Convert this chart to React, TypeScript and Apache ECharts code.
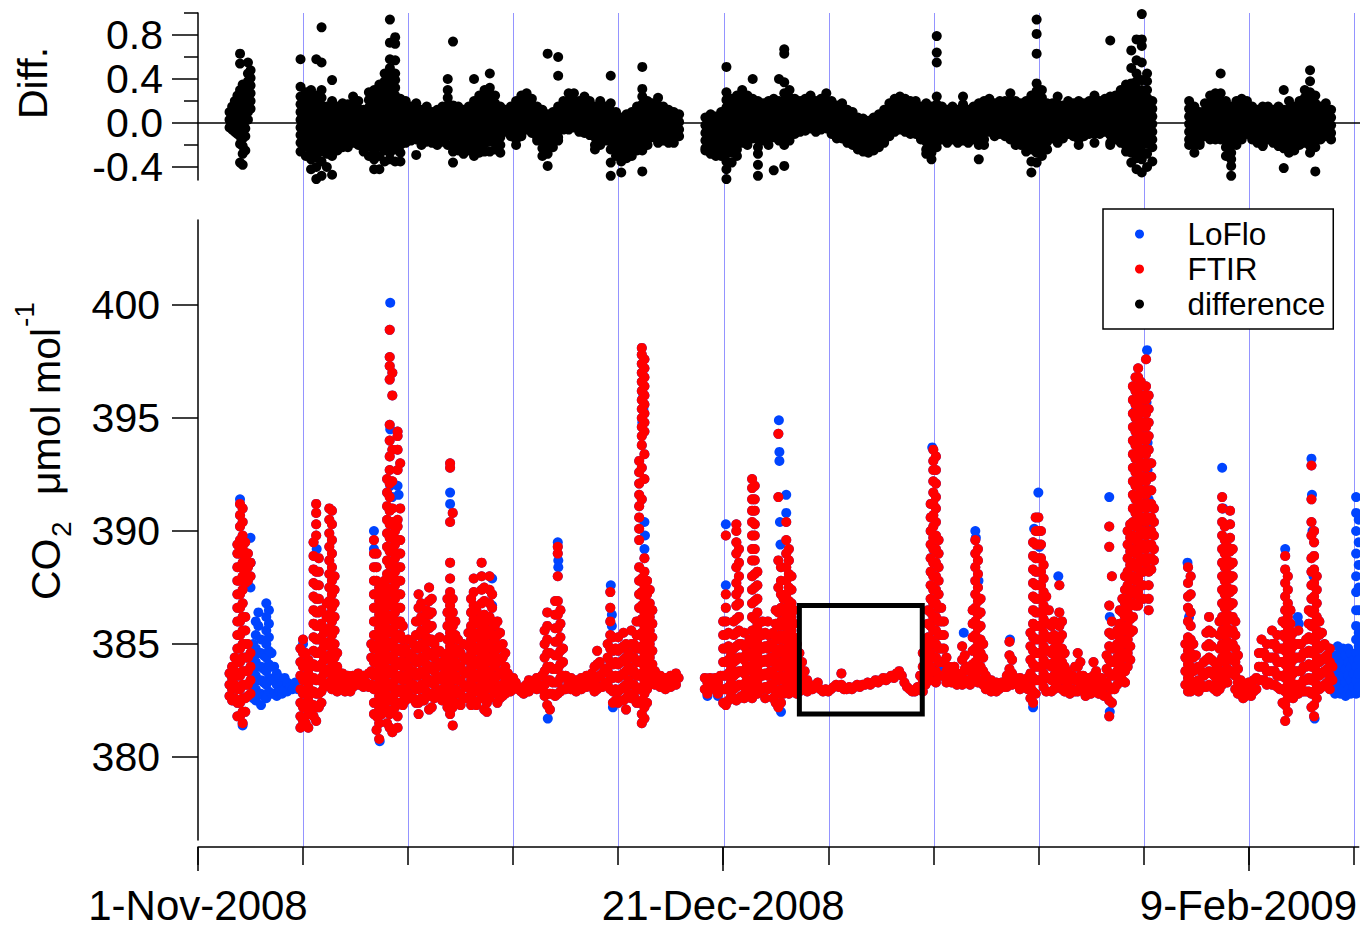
import React, { useEffect, useRef } from 'react';
import * as echarts from 'echarts';

type Col = number | number[];

// ---------- axes (x = days since 1-Nov-2008) ----------
const X_MAX_DAYS = 110.5;
const xMajorTickDays = [0, 50, 100];
const xMajorTickLabels = ['1-Nov-2008', '21-Dec-2008', '9-Feb-2009'];
const xMinorTickDays = [0, 10, 20, 30, 40, 50, 60, 70, 80, 90, 100, 110];
const gridLineRange = [10, 110]; // blue day lines every 10 days
const co2Range = [376.33, 403.76];
const co2TickValues = [380, 385, 390, 395, 400];
const diffRange = [-0.518, 1.0];
const diffTickValues = [-0.4, 0, 0.4, 0.8];
const diffMinorTickValues = [-0.2, 0.2, 0.6, 1.0];
const seriesNames = ['LoFlo', 'FTIR', 'difference'];
const boxDays = [57.25, 68.95];
const boxCo2 = [381.9, 386.7];

const CO2_STEP = 0.25; // days between CO2 sample columns
const DIFF_STEP = 0.5; // days between difference sample columns

// ---------- CO2 (ppm): columns where LoFlo and FTIR coincide at plot resolution ----------
const co2BothA_start = 3.0;
const co2BothA: Col[] = [
  [383.7, 383.2, 382.7], [384.0, 383.5, 383.0, 382.5], [384.4, 383.8, 383.2, 382.6],
  [389.4, 389.0, 388.4, 387.8, 387.2, 386.6, 386.0, 385.4, 384.8, 384.2, 383.6, 383.0, 382.4, 381.8],
  [391.2, 390.7, 390.2, 389.6, 389.0, 388.4, 387.8, 387.2, 386.6, 386.0, 385.4, 384.8, 384.2, 383.6, 383.0, 382.4, 381.8],
  [391.0, 390.4, 389.8, 389.2, 388.6, 388.0, 387.4, 386.8, 386.2, 385.6, 385.0, 384.4, 383.8, 383.2, 382.6, 382.0, 381.5],
  [389.5, 388.9, 388.3, 387.7, 386.2, 385.6, 385.0, 384.4, 383.8, 383.2, 382.6, 382.0],
  [389.0, 388.4, 387.8, 385.0, 384.4, 383.8, 383.2, 382.7],
  [388.6, 388.0, 384.6, 384.0, 383.4, 382.8],
];

const co2BothB_start = 9.75;
const co2BothB: Col[] = [
  [384.8, 384.2, 383.6, 383.0, 382.4, 381.8, 381.3],
  // 10
  [385.2, 384.6, 384.0, 383.4, 382.8, 382.2, 381.6],
  [384.6, 384.0, 383.4, 382.8, 382.2, 381.5],
  [384.3, 383.7, 383.1, 382.5, 381.9, 381.3],
  [384.0, 383.4, 382.8, 382.2],
  // 11
  [389.5, 388.9, 388.3, 387.7, 387.1, 386.5, 385.9, 385.3, 384.7, 384.1, 383.5, 382.9, 382.3, 381.8],
  [391.2, 390.8, 390.3, 389.8, 388.2, 387.6, 387.0, 386.4, 385.8, 385.2, 384.6, 384.0, 383.4, 382.8, 382.2, 381.6],
  [388.8, 388.2, 387.6, 387.0, 386.4, 385.8, 385.2, 384.6, 384.0, 383.4, 382.8, 382.2],
  [386.5, 385.9, 385.3, 384.7, 384.1, 383.5, 382.9, 382.4],
  // 12
  [385.5, 384.9, 384.3, 383.7, 383.1],
  [386.8, 386.2, 385.6, 385.0, 384.4, 383.8, 383.2],
  [391.0, 390.5, 389.9, 389.3, 388.7, 388.1, 387.5, 386.9, 386.3, 385.7, 385.1, 384.5, 383.9, 383.3],
  [390.9, 390.3, 389.6, 389.0, 388.4, 387.8, 387.2, 386.6, 386.0, 385.4, 384.8, 384.2, 383.6, 383.0],
  // 13
  [388.0, 387.4, 386.8, 386.2, 385.6, 385.0, 384.4, 383.8, 383.2],
  [384.6, 384.0, 383.4, 382.9], [383.6, 383.1], [383.7, 383.2],
  // 14
  [383.4, 382.9], [383.6, 383.1], [383.4, 382.9], [383.6, 383.1],
  // 15
  383.4, [383.7, 383.2], 383.3, [383.6, 383.1],
  // 16
  383.3, [383.7, 383.1], [385.0, 384.4, 383.8, 383.2],
  [389.6, 389.0, 388.4, 387.8, 387.2, 386.6, 386.0, 385.4, 384.8, 384.2, 383.6, 383.0, 382.4, 381.9],
  // 17
  [389.0, 388.4, 387.8, 387.2, 386.6, 386.0, 385.4, 384.8, 384.2, 383.6, 383.0, 382.4, 381.8, 381.2],
  [387.5, 386.9, 386.3, 385.7, 385.1, 384.5, 383.9, 383.3, 382.7, 382.1, 381.5, 380.8],
  [385.5, 384.9, 384.3, 383.7, 383.1, 382.5, 381.9],
  [387.8, 387.2, 386.6, 386.0, 385.4, 384.8, 384.2, 383.6, 383.0, 382.4],
  // 18
  [392.3, 391.7, 391.1, 390.5, 389.9, 389.3, 388.7, 388.1, 387.5, 386.9, 386.3, 385.7, 385.1, 384.5, 383.9, 383.3, 382.7, 382.1, 381.5],
  [398.9, 397.7, 397.3, 396.7, 394.7, 394.0, 393.3, 392.7, 392.1, 391.5, 390.9, 390.3, 389.7, 389.1, 388.5, 387.9, 387.3, 386.7, 386.1, 385.5, 384.9, 384.3, 383.7, 383.1, 382.5, 381.9, 381.3],
  [397.0, 396.0, 393.6, 392.2, 391.0, 390.4, 389.8, 389.2, 388.6, 388.0, 387.4, 386.8, 386.2, 385.6, 385.0, 384.4, 383.8, 383.2, 382.6, 382.0, 381.1],
  [390.0, 389.4, 388.8, 388.2, 387.6, 387.0, 386.4, 385.8, 385.2, 384.6, 384.0, 383.4, 382.8, 382.2],
  // 19
  [394.4, 394.2, 393.6, 392.7, 390.5, 390.2, 389.6, 389.0, 388.4, 387.8, 387.2, 386.6, 386.0, 385.4, 384.8, 384.2, 383.6, 383.0, 382.4, 381.8, 381.3],
  [393.0, 391.0, 389.6, 389.0, 388.4, 387.8, 387.2, 386.6, 386.0, 385.4, 384.8, 384.2, 383.6, 383.0, 382.4],
  [385.8, 385.2, 384.6, 384.0, 383.4, 382.8, 382.3],
  [384.8, 384.2, 383.6, 383.0, 382.5],
  // 20
  [385.2, 384.6, 384.0, 383.4, 382.8],
  [384.4, 383.8, 383.2, 382.6],
  [385.0, 384.4, 383.8, 383.2, 382.6],
  [386.0, 385.4, 384.8, 384.2, 383.6, 383.0, 382.4],
  // 21
  [387.2, 386.6, 386.0, 385.4, 384.8, 384.2, 383.6, 383.0, 382.4, 381.9],
  [386.8, 386.2, 385.6, 385.0, 384.4, 383.8, 383.2, 382.6],
  [385.5, 384.9, 384.3, 383.7, 383.1, 382.5],
  [386.5, 385.9, 385.3, 384.7, 384.1, 383.5, 382.9],
  // 22
  [387.5, 386.9, 386.3, 385.7, 385.1, 384.5, 383.9, 383.3, 382.7, 382.1],
  [387.0, 386.4, 385.8, 385.2, 384.6, 384.0, 383.4, 382.8, 382.2],
  [385.0, 384.4, 383.8, 383.2, 382.6],
  [384.6, 384.0, 383.4, 382.8],
  // 23
  [385.3, 384.7, 384.1, 383.5, 382.9],
  [384.2, 383.6, 383.0, 382.5],
  [384.5, 383.9, 383.3, 382.8],
  [387.0, 386.4, 385.8, 385.2, 384.6, 384.0, 383.4, 382.8, 382.2],
  // 24
  [393.0, 392.8, 390.4, 388.6, 387.9, 387.3, 386.7, 386.1, 385.5, 384.9, 384.3, 383.7, 383.1, 382.5, 381.9],
  [390.8, 387.0, 386.4, 385.8, 385.2, 384.6, 384.0, 383.4, 382.8, 382.2, 381.4],
  [386.0, 385.4, 384.8, 384.2, 383.6, 383.0, 382.4],
  [385.2, 384.6, 384.0, 383.4, 382.8],
  // 25
  [384.6, 384.0, 383.4, 382.8, 382.3],
  [385.0, 384.4, 383.8, 383.2, 382.6],
  [384.3, 383.7, 383.1, 382.6],
  [385.5, 384.9, 384.3, 383.7, 383.1],
  // 26
  [387.0, 386.4, 385.8, 385.2, 384.6, 384.0, 383.4, 382.8, 382.3],
  [387.9, 387.3, 386.7, 386.1, 385.5, 384.9, 384.3, 383.7, 383.1, 382.5],
  [386.5, 385.9, 385.3, 384.7, 384.1, 383.5, 382.9, 382.3],
  [386.0, 385.4, 384.8, 384.2, 383.6, 383.0],
  // 27
  [388.6, 388.0, 387.4, 386.8, 386.2, 385.6, 385.0, 384.4, 383.8, 383.2, 382.6],
  [387.5, 386.9, 386.3, 385.7, 385.1, 384.5, 383.9, 383.3, 382.7, 382.1],
  [386.0, 385.4, 384.8, 384.2, 383.6, 383.0, 382.4, 382.0],
  [388.0, 387.4, 386.8, 386.2, 385.6, 385.0, 384.4, 383.8, 383.2, 382.6],
  // 28
  [387.2, 386.6, 386.0, 385.4, 384.8, 384.2, 383.6, 383.0],
  [385.8, 385.2, 384.6, 384.0, 383.4, 382.8],
  [386.0, 385.4, 384.8, 384.2, 383.6, 383.0, 382.4],
  [385.5, 384.9, 384.3, 383.7, 383.1, 382.6],
  // 29
  [385.0, 384.4, 383.8, 383.2, 382.7], [384.6, 384.0, 383.4, 382.8], [383.7, 383.1], [383.4, 382.9],
  // 30
  [383.5, 383.0], 383.3, 383.0, 382.9,
  // 31
  [383.1, 382.8], 383.2, [383.4, 382.9], 383.1,
  // 32
  383.3, [383.5, 383.0], 383.2, [383.6, 383.0],
  // 33
  [385.6, 385.0, 384.4, 383.8, 383.2, 382.7],
  [386.4, 385.8, 385.2, 384.6, 384.0, 383.4, 382.8, 382.3],
  [384.6, 384.0, 383.4, 382.8, 382.1],
  [383.9, 383.3, 382.8],
  // 34
  [386.9, 386.3, 385.7, 385.1, 384.5, 383.9, 383.3, 382.7],
  [389.3, 389.0, 388.0, 386.9, 386.3, 385.7, 385.1, 384.5, 383.9, 383.3, 382.8],
  [386.5, 385.9, 385.3, 384.7, 384.1, 383.5, 382.9],
  [384.8, 384.2, 383.6, 383.0],
  // 35
  [383.6, 383.0], 383.3, [383.5, 383.0], 383.1,
  // 36
  [383.4, 382.9], 383.2, [383.5, 383.0], 383.2,
  // 37
  [383.6, 383.1], 383.3, [383.7, 383.1], [384.0, 383.4, 382.9],
  // 38
  [384.7, 384.1, 383.5, 383.0], [384.2, 383.6, 383.1], [383.7, 383.1], [383.9, 383.3],
  // 39
  [385.0, 384.4, 383.8, 383.2],
  [387.3, 386.6, 386.0, 385.4, 384.8, 384.2, 383.6, 383.0],
  [385.3, 384.7, 384.1, 383.5, 382.9, 382.4],
  [384.8, 384.2, 383.6, 383.0, 382.5],
  // 40
  [385.3, 384.7, 384.1, 383.5, 382.9, 382.4],
  [384.8, 384.2, 383.6, 383.0, 382.5],
  [385.5, 384.9, 384.3, 383.7, 383.1, 382.5],
  [385.0, 384.4, 383.8, 383.2, 382.6, 382.1],
  // 41
  [384.6, 384.0, 383.4, 382.8],
  [385.6, 385.0, 384.4, 383.8, 383.2, 382.6],
  [385.0, 384.4, 383.8, 383.2, 382.7],
  [386.0, 385.4, 384.8, 384.2, 383.6, 383.0, 382.4],
  // 42
  [393.1, 392.6, 392.1, 391.6, 391.1, 390.6, 390.1, 389.6, 388.4, 387.8, 387.2, 386.6, 386.0, 385.4, 384.8, 384.2, 383.6, 383.0, 382.4],
  [398.1, 397.8, 397.4, 397.0, 396.6, 396.2, 395.8, 395.4, 395.0, 394.6, 394.2, 393.8, 392.8, 391.4, 387.9, 387.3, 386.7, 386.1, 385.5, 384.9, 384.3, 383.7, 383.1, 382.5, 381.9, 381.5],
  [397.6, 397.2, 396.8, 396.4, 396.0, 395.6, 395.2, 394.8, 394.4, 393.4, 392.3, 388.8, 388.2, 387.6, 387.0, 386.4, 385.8, 385.2, 384.6, 384.0, 383.4, 382.8, 382.2, 381.7],
  [387.8, 387.2, 386.6, 386.0, 385.4, 384.8, 384.2, 383.6, 383.0, 382.4],
  // 43
  [387.4, 386.8, 386.2, 385.6, 385.0, 384.4, 383.8, 383.2],
  [386.5, 385.9, 385.3, 384.7, 384.1, 383.5],
  [383.8, 383.2], 383.5,
  // 44
  [383.6, 383.1], 383.3, [383.5, 383.0], 383.4,
  // 45
  [383.6, 383.1], 383.5, [383.7, 383.2], 383.5,
];

const co2BothC_start = 48.25;
const co2BothC: Col[] = [
  [383.5, 383.0], [383.3, 382.8], [383.5, 383.0],
  // 49
  383.2, [383.5, 383.0], [383.3, 382.8], [383.6, 383.0],
  // 50
  [386.0, 385.4, 384.8, 384.2, 383.6, 383.0, 382.4],
  [389.8, 387.2, 386.6, 386.0, 385.4, 384.8, 384.2, 383.6, 383.0, 382.3],
  [385.5, 384.9, 384.3, 383.7, 383.1, 382.5],
  [384.5, 383.9, 383.3, 382.7],
  // 51
  [386.0, 385.4, 384.8, 384.2, 383.6, 383.0],
  [390.3, 390.0, 389.5, 389.0, 388.4, 387.7, 387.2, 386.7, 386.1, 385.5, 384.9, 384.3, 383.7, 383.1, 382.5],
  [389.2, 388.6, 388.0, 387.4, 386.8, 386.2, 385.6, 385.0, 384.4, 383.8, 383.2, 382.6],
  [385.0, 384.4, 383.8, 383.2, 382.7],
  // 52
  [385.5, 384.9, 384.3, 383.7, 383.1, 382.6],
  [384.6, 384.0, 383.4, 382.9],
  [385.2, 384.6, 384.0, 383.4, 382.8],
  [392.3, 391.9, 391.4, 390.9, 390.4, 389.8, 389.2, 388.7, 388.0, 387.4, 386.8, 386.2, 385.6, 385.0, 384.4, 383.8, 383.2, 382.6],
  // 53
  [392.0, 391.4, 390.9, 390.3, 389.8, 389.2, 388.7, 388.1, 387.5, 386.9, 386.1, 385.5, 384.9, 384.3, 383.7, 383.1],
  [388.2, 387.6, 387.0, 386.4, 385.8, 385.2, 384.6, 384.0, 383.4, 382.8],
  [385.5, 384.9, 384.3, 383.7, 383.1],
  [386.0, 385.4, 384.8, 384.2, 383.6, 383.0],
  // 54
  [385.5, 384.9, 384.3, 383.7, 383.1, 382.6],
  [386.0, 385.4, 384.8, 384.2, 383.6, 383.0],
  [385.0, 384.4, 383.8, 383.2],
  [385.5, 384.9, 384.3, 383.7, 383.1, 382.6],
  // 55
  [386.5, 385.9, 385.3, 384.7, 384.1, 383.5, 382.9, 382.4],
  [394.3, 391.5, 388.7, 387.5, 386.4, 385.8, 385.2, 384.6, 384.0, 383.4, 382.8, 382.2],
  [388.4, 387.8, 387.2, 386.6, 386.0, 385.4, 384.8, 384.2, 383.6, 383.0, 382.4],
  [387.0, 386.4, 385.8, 385.2, 384.6, 384.0, 383.4, 382.8],
  // 56
  [390.4, 389.6, 389.0, 388.4, 387.8, 387.2, 386.6, 386.0, 385.4, 384.8, 384.2, 383.6, 383.0],
  [389.2, 388.7, 388.1, 387.5, 386.9, 386.3, 385.7, 385.1, 384.5, 383.9, 383.3, 382.8],
  [388.0, 387.4, 386.8, 386.2, 385.6, 385.0, 384.4, 383.8, 383.2],
  [386.5, 385.9, 385.3, 384.7, 384.1, 383.5, 382.9],
  // 57
  [385.0, 384.4, 383.8, 383.2, 382.8], [384.6, 384.0, 383.4, 382.9], [384.2, 383.6, 383.1], [383.8, 383.2],
  // 58
  [383.4, 382.9], 383.2, 383.0, 383.1,
  // 59
  383.3, 383.0, 382.9, 383.0,
  // 60
  382.9, 383.0, 383.1, 383.2,
  // 61
  383.1, [383.7, 383.2], 383.0, 383.0,
  // 62
  383.1, 383.0, 383.1, 383.2,
  // 63
  383.1, 383.2, 383.2, 383.3,
  // 64
  383.2, 383.3, 383.4, 383.3,
  // 65
  383.4, 383.5, 383.4, 383.5,
  // 66
  383.6, 383.5, 383.7, 383.8,
  // 67
  383.6, 383.3, 383.1, 383.0,
  // 68
  382.9, 382.9, 383.1, [383.6, 383.0],
  // 69
  [384.6, 384.0, 383.4, 382.9],
  [385.0, 384.4, 383.8, 383.2],
  [386.5, 385.9, 385.3, 384.7, 384.1, 383.5],
  [391.2, 390.6, 390.0, 389.4, 388.8, 388.2, 387.6, 387.0, 386.4, 385.8, 385.2, 384.6, 384.0, 383.4],
  // 70
  [393.6, 393.1, 392.7, 392.2, 391.7, 391.2, 390.7, 390.2, 389.7, 389.2, 388.6, 388.0, 387.4, 386.8, 386.2, 385.6, 385.0, 384.4, 383.8],
  [393.3, 392.7, 392.1, 391.5, 391.0, 390.4, 389.8, 389.2, 388.6, 388.0, 387.4, 386.8, 386.2, 385.6, 385.0, 384.4, 383.8, 383.3],
  [389.6, 389.0, 388.4, 387.8, 387.2, 386.6, 386.0, 385.4, 384.8, 384.2, 383.6],
  [386.6, 386.0, 385.4, 384.8, 384.2, 383.6],
  // 71
  [386.0, 385.4, 384.8, 384.2, 383.6], [384.4, 383.8, 383.3], [384.0, 383.5], [383.8, 383.3],
  // 72
  [384.0, 383.5], [383.7, 383.2], 383.5, [384.9, 384.3, 383.7, 383.2],
  // 73
  [384.5, 383.9, 383.3], [384.0, 383.4], [383.8, 383.2], [386.5, 385.9, 385.3, 384.7, 384.1, 383.5],
  // 74
  [389.6, 389.0, 388.4, 387.8, 387.2, 386.6, 386.0, 385.4, 384.8, 384.2, 383.6],
  [389.2, 388.7, 388.1, 387.5, 386.9, 386.3, 385.7, 385.1, 384.5, 383.9, 383.3],
  [387.0, 386.4, 385.8, 385.2, 384.6, 384.0, 383.4],
  [385.0, 384.4, 383.8, 383.2],
  // 75
  [383.6, 383.0], 383.2, [383.4, 382.9], 383.1,
  // 76
  [383.3, 382.9], 383.0, 383.3, 383.1,
  // 77
  [383.6, 383.1], [385.1, 384.5, 383.9, 383.3], [384.3, 383.7, 383.2], 383.5,
  // 78
  383.3, [383.5, 383.0], 383.4, 383.2,
  // 79
  [383.5, 383.0],
  [385.5, 384.9, 384.3, 383.7, 383.1, 382.6],
  [389.5, 388.9, 388.3, 387.7, 387.1, 386.5, 385.9, 385.3, 384.7, 384.1, 383.5, 382.9, 382.4],
  [390.6, 390.0, 389.4, 388.8, 388.2, 387.6, 387.0, 386.4, 385.8, 385.2, 384.6, 384.0, 383.4, 382.8],
  // 80
  [390.6, 390.0, 389.4, 388.8, 388.2, 387.6, 387.0, 386.4, 385.8, 385.2, 384.6, 384.0, 383.4],
  [390.0, 389.4, 388.8, 388.2, 387.6, 387.0, 386.4, 385.8, 385.2, 384.6, 384.0, 383.4],
  [388.5, 387.9, 387.3, 386.7, 386.1, 385.5, 384.9, 384.3, 383.7, 383.1],
  [387.1, 386.5, 385.9, 385.3, 384.7, 384.1, 383.5, 382.9],
  // 81
  [386.5, 385.9, 385.3, 384.7, 384.1, 383.5],
  [385.8, 385.2, 384.6, 384.0, 383.4, 382.9],
  [386.0, 385.4, 384.8, 384.2, 383.6, 383.0],
  [385.0, 384.4, 383.8, 383.2],
  // 82
  [387.6, 386.4, 385.8, 385.2, 384.6, 384.0, 383.4],
  [386.0, 385.4, 384.8, 384.2, 383.6, 383.0],
  [384.6, 384.0, 383.4, 382.9],
  [383.8, 383.2],
  // 83
  [383.4, 382.8], [383.6, 383.0], [384.0, 383.4, 382.9], [384.6, 384.0, 383.4, 382.9],
  // 84
  [384.2, 383.6, 383.1], [383.6, 383.0], [383.3, 382.7], [383.5, 383.0],
  // 85
  [383.4, 382.8], [384.2, 383.6, 383.0], [383.8, 383.2], [383.3, 382.8],
  // 86
  [383.5, 382.9], [383.2, 382.7], [384.5, 383.9, 383.3, 382.7],
  [390.2, 389.3, 386.7, 385.5, 384.9, 384.3, 383.7, 383.1, 382.5, 381.8],
  // 87
  [388.0, 386.0, 385.4, 384.8, 384.2, 383.6, 383.0, 382.4],
  [384.8, 384.2, 383.6, 383.0],
  [385.6, 385.0, 384.4, 383.8, 383.2],
  [386.5, 385.9, 385.3, 384.7, 384.1, 383.5],
  // 88
  [387.0, 386.4, 385.8, 385.2, 384.6, 384.0, 383.4],
  [388.0, 387.4, 386.8, 386.2, 385.6, 385.0, 384.4, 383.8, 383.3],
  [390.0, 389.4, 388.8, 388.2, 387.6, 387.0, 386.4, 385.8, 385.2, 384.6, 384.0],
  [390.3, 389.7, 389.1, 388.5, 387.9, 387.3, 386.7, 386.1, 385.5, 384.9, 384.3],
  // 89
  [396.4, 395.8, 395.2, 394.6, 394.0, 393.4, 392.8, 392.2, 391.6, 391.0, 390.4, 389.8, 389.2, 388.6, 388.0, 387.4, 386.8, 386.2, 385.6],
  [396.8, 396.2, 395.6, 395.0, 394.4, 393.8, 393.2, 392.6, 392.0, 391.4, 390.8, 390.2, 389.6, 389.0, 388.4, 387.8, 387.2, 386.7],
  [397.2, 396.8, 396.3, 395.7, 395.1, 394.5, 393.9, 393.3, 392.7, 392.1, 391.5, 390.9, 390.3, 389.7, 389.1, 388.5, 387.9, 387.3, 386.7],
  [396.6, 396.0, 395.4, 394.8, 394.2, 393.6, 393.0, 392.4, 391.8, 391.2, 390.6, 390.0, 389.4, 388.8, 388.2, 387.6, 387.0],
  // 90
  [396.0, 395.4, 394.8, 394.2, 393.6, 393.0, 392.4, 391.8, 391.2, 390.6, 390.0, 389.4, 388.8, 388.2, 387.6, 387.0],
  [397.6, 396.4, 395.8, 395.2, 394.6, 394.0, 393.4, 392.8, 392.2, 391.6, 391.0, 390.4, 389.8, 389.2, 388.6],
  [396.0, 395.4, 394.8, 394.2, 393.6, 393.0, 392.4, 391.8, 391.2, 390.6, 390.0, 389.4, 388.8, 388.2, 387.6, 387.0, 386.5],
  [393.0, 392.4, 391.8, 391.2, 390.6, 390.0, 389.4, 388.8, 388.3],
  // 91
  [391.0, 390.4, 389.8, 389.2, 388.7],
];

const co2BothD_start = 94.0;
const co2BothD: Col[] = [
  // 94
  [385.0, 384.4, 383.8, 383.2],
  [388.4, 387.7, 387.1, 386.6, 386.0, 385.3, 384.7, 384.1, 383.5, 382.9],
  [388.0, 387.2, 386.4, 385.8, 385.2, 384.6, 384.0, 383.4, 382.9],
  [385.0, 384.4, 383.8, 383.2],
  // 95
  [384.5, 383.9, 383.3], [384.0, 383.4, 382.9], [383.8, 383.2], [384.2, 383.6, 383.1],
  // 96
  [385.5, 384.9, 384.3, 383.7, 383.1],
  [386.2, 385.6, 385.0, 384.4, 383.8, 383.2],
  [385.5, 384.9, 384.3, 383.7, 383.1],
  [384.2, 383.6, 383.0],
  // 97
  [384.0, 383.4, 382.9],
  [386.0, 385.4, 384.8, 384.2, 383.6, 383.0],
  [391.5, 391.0, 390.4, 389.8, 389.2, 388.6, 388.0, 387.4, 386.8, 386.2, 385.6, 385.0, 384.4, 383.8, 383.2],
  [390.2, 389.6, 389.0, 388.4, 387.8, 387.2, 386.6, 386.0, 385.4, 384.8, 384.2, 383.6],
  // 98
  [389.3, 388.7, 388.1, 387.5, 386.9, 386.3, 385.7, 385.1, 384.5, 383.9, 383.3],
  [390.9, 390.3, 389.7, 389.1, 388.5, 387.9, 387.3, 386.7, 386.1, 385.5, 384.9, 384.3, 383.7],
  [389.2, 388.6, 388.0, 387.4, 386.8, 386.2, 385.6, 385.0, 384.4, 383.8],
  [386.0, 385.4, 384.8, 384.2, 383.6, 383.0],
  // 99
  [384.5, 383.9, 383.3, 382.8], [383.4, 382.8], [383.1, 382.6], [383.2, 382.7],
  // 100
  [383.3, 382.8], [383.2, 382.7], [383.4, 382.9], [383.5, 383.0],
  // 101
  [384.6, 384.0, 383.4], [385.2, 384.6, 384.0, 383.4], [384.6, 384.0, 383.4], [385.0, 384.4, 383.8, 383.2],
  // 102
  [384.4, 383.8, 383.3], [385.6, 385.0, 384.4, 383.8, 383.2], [385.0, 384.4, 383.8, 383.2], [385.4, 384.8, 384.2, 383.6, 383.1],
  // 103
  [384.8, 384.2, 383.6, 383.0],
  [386.0, 385.4, 384.8, 384.2, 383.6, 383.0, 382.4],
  [388.9, 388.3, 387.7, 387.1, 386.5, 385.9, 385.3, 384.7, 384.1, 383.5, 382.9, 382.3, 381.6],
  [388.0, 387.4, 386.8, 386.2, 385.6, 385.0, 384.4, 383.8, 383.2, 382.6, 382.0],
  // 104
  [386.5, 385.9, 385.3, 384.7, 384.1, 383.5, 382.9],
  [385.5, 384.9, 384.3, 383.7, 383.1, 382.6],
  [385.0, 384.4, 383.8, 383.2],
  [385.6, 385.0, 384.4, 383.8, 383.2, 382.8],
  // 105
  [385.0, 384.4, 383.8, 383.2],
  [384.6, 384.0, 383.4, 382.9],
  [385.2, 384.6, 384.0, 383.4, 382.9],
  [386.5, 385.9, 385.3, 384.7, 384.1, 383.5, 382.9],
  // 106
  [392.9, 391.4, 390.4, 389.8, 388.8, 388.2, 387.6, 387.0, 386.4, 385.8, 385.2, 384.6, 384.0, 383.4, 382.8, 382.2],
  [390.0, 389.5, 388.9, 388.3, 387.7, 387.1, 386.5, 385.9, 385.3, 384.7, 384.1, 383.5, 382.9, 382.3, 381.8],
  [388.0, 387.4, 386.8, 386.2, 385.6, 385.0, 384.4, 383.8, 383.2, 382.6],
  [386.0, 385.4, 384.8, 384.2, 383.6, 383.0],
  // 107
  [385.5, 384.9, 384.3, 383.7, 383.1], [385.0, 384.4, 383.8, 383.2], [384.5, 383.9, 383.3], [384.8, 384.2, 383.6, 383.0],
  // 108
  [384.0, 383.4],
];

// ---------- LoFlo-only readings (blue visible) ----------
const loFloOnlyA_start = 5.25;
const loFloOnlyA: Col[] = [
  [385.0, 384.4, 383.8, 383.2, 382.6],
  [386.0, 385.4, 384.8, 384.2, 383.6, 383.0, 382.5],
  [386.4, 385.8, 384.6, 384.0, 383.4, 382.8],
  [385.2, 384.6, 384.0, 383.4, 382.8, 382.3],
  [384.5, 383.9, 383.3, 382.7],
  [386.8, 386.2, 385.6, 385.0, 384.4, 383.8, 383.2, 382.6],
  [386.5, 385.9, 385.3, 384.7, 384.1, 383.5, 382.9],
  [384.6, 384.0, 383.4, 382.8],
  [384.0, 383.4, 382.8],
  [383.7, 383.2, 382.7],
  [383.5, 382.9], [383.3, 382.8], [383.5, 383.0], [383.3, 382.9],
  383.1, 383.0, 383.3, 383.0,
];
const loFloOnlyD_start = 108.25;
const loFloOnlyD: Col[] = [
  [384.5, 383.9, 383.3, 382.8],
  [384.9, 384.3, 383.7, 383.1],
  [384.6, 384.0, 383.4, 382.8],
  [384.8, 384.2, 383.6, 383.0],
  [384.5, 383.9, 383.3, 382.7],
  [384.8, 384.2, 383.6, 383.0],
  [384.6, 384.0, 383.4, 382.8],
  [384.3, 383.7, 383.1],
  [391.5, 390.8, 390.0, 389.0, 388.0, 387.3, 386.5, 385.8, 385.2, 384.6, 384.0, 383.4, 382.8],
  [390.5, 389.5, 388.5, 387.5, 386.5, 385.5, 384.9, 384.3, 383.7, 383.1],
];
const loFloExtras: [number, number][] = [
  [4.0, 391.4], [4.25, 381.4], [5.0, 389.7], [5.0, 388.6], [5.0, 387.5],
  [10.0, 385.0], [11.3, 389.2], [16.75, 390.0], [16.75, 389.2], [17.3, 380.7], [18.3, 400.1], [18.3, 394.5],
  [18.3, 392.0], [18.5, 391.5], [19.0, 392.0], [19.1, 391.6], [24.0, 391.7], [24.0, 391.2], [28.0, 387.9],
  [28.0, 386.7], [33.3, 381.7], [34.25, 389.5], [34.3, 388.7], [34.3, 388.4], [39.3, 387.6], [39.4, 386.3],
  [39.4, 385.8], [39.5, 382.2], [42.3, 397.0], [42.4, 396.0], [42.4, 395.4], [42.3, 394.8], [42.5, 390.4],
  [42.55, 389.8], [42.5, 389.2],
  [48.5, 382.7], [49.5, 382.7], [50.25, 390.3], [50.25, 387.6], [55.3, 394.9], [55.35, 393.5], [55.35, 393.1],
  [55.4, 390.4], [55.45, 389.4], [55.5, 382.0], [56.0, 391.6], [56.0, 390.8], [69.9, 393.7], [70.1, 389.1],
  [70.5, 384.0], [70.75, 384.0], [71.0, 384.0], [71.25, 384.0], [72.9, 385.5], [74.0, 390.0], [74.05, 389.7],
  [74.3, 387.8], [77.3, 385.2], [79.5, 382.2], [79.6, 390.1], [80.0, 391.7], [80.1, 389.3], [81.9, 388.0],
  [86.75, 391.5], [86.8, 386.2], [86.8, 382.0], [89.2, 395.3], [89.3, 394.1], [89.6, 393.5], [90.35, 398.0],
  [90.3, 395.7], [90.4, 393.9], [90.4, 392.7], [90.5, 391.4], [90.4, 390.2],
  [94.2, 388.6], [94.35, 386.2], [97.5, 392.8], [97.6, 391.0], [103.5, 389.2], [104.7, 386.2], [104.8, 385.9],
  [106.0, 393.2], [106.05, 391.6], [106.1, 390.0], [106.2, 388.0], [106.3, 381.7],
];

// ---------- difference (LoFlo - FTIR, ppm) ----------
const diffA_start = 3.0;
const diffA_step = 0.25;
const diffA: Col[] = [
  [0.1, 0.03, -0.04], [0.15, 0.08, 0.01, -0.06], [0.2, 0.13, 0.06, -0.01, -0.08], [0.25, 0.18, 0.11, 0.04, -0.03, -0.1],
  [0.63, 0.54, 0.3, 0.23, 0.16, 0.09, 0.02, -0.05, -0.12, -0.19, -0.36],
  [0.35, 0.28, 0.21, 0.14, 0.07, 0.0, -0.07, -0.14, -0.21, -0.28, -0.38],
  [0.3, 0.23, 0.16, 0.09, 0.02, -0.05, -0.12, -0.25],
  [0.55, 0.45, 0.38, 0.31, 0.24, 0.17, 0.1, 0.03],
  [0.48, 0.41, 0.34, 0.27, 0.2, 0.13],
];
const diffB_start = 9.75;
const diffB: Col[] = [
  [0.58, 0.33, 0.24, 0.17, 0.1, 0.03, -0.04, -0.11, -0.18, -0.26],
  [0.28, 0.21, 0.14, 0.07, 0.0, -0.07, -0.14, -0.21, -0.3],
  [0.3, 0.23, 0.16, 0.09, 0.02, -0.05, -0.12, -0.19, -0.26, -0.33, -0.42],
  [0.58, 0.25, 0.18, 0.11, 0.04, -0.03, -0.1, -0.17, -0.24, -0.31, -0.4, -0.51],
  [0.87, 0.55, 0.3, 0.23, 0.16, 0.09, 0.02, -0.05, -0.12, -0.19, -0.26, -0.35, -0.48],
  [0.15, 0.08, 0.01, -0.06, -0.13, -0.2, -0.28, -0.4],
  [0.39, 0.2, 0.13, 0.06, -0.01, -0.08, -0.15, -0.22, -0.3, -0.47],
  [0.15, 0.08, 0.01, -0.06, -0.13, -0.2, -0.25],
  [0.18, 0.11, 0.04, -0.03, -0.1, -0.17, -0.22],
  [0.17, 0.1, 0.03, -0.04, -0.11, -0.18, -0.22],
  [0.24, 0.17, 0.1, 0.03, -0.04, -0.11, -0.18],
  [0.2, 0.13, 0.06, -0.01, -0.08, -0.15, -0.2],
  [0.12, 0.05, -0.02, -0.09, -0.16, -0.22, -0.26],
  [0.28, 0.21, 0.14, 0.07, 0.0, -0.07, -0.14, -0.21, -0.3],
  [0.3, 0.23, 0.16, 0.09, 0.02, -0.05, -0.12, -0.19, -0.26, -0.33, -0.42],
  [0.35, 0.28, 0.21, 0.14, 0.07, 0.0, -0.07, -0.14, -0.21, -0.3, -0.42],
  [0.45, 0.38, 0.31, 0.24, 0.17, 0.1, 0.03, -0.04, -0.11, -0.18, -0.25, -0.35],
  [0.94, 0.73, 0.58, 0.5, 0.43, 0.36, 0.29, 0.22, 0.15, 0.08, 0.01, -0.06, -0.13, -0.2, -0.27, -0.33],
  [0.78, 0.72, 0.57, 0.45, 0.39, 0.32, 0.25, 0.18, 0.11, 0.04, -0.03, -0.1, -0.17, -0.24, -0.35],
  [0.22, 0.15, 0.08, 0.01, -0.06, -0.13, -0.2, -0.27, -0.35],
  [0.2, 0.13, 0.06, -0.01, -0.08, -0.15, -0.18],
  [0.15, 0.08, 0.01, -0.06, -0.13, -0.16],
  [0.18, 0.11, 0.04, -0.03, -0.1, -0.15, -0.29],
  [0.12, 0.05, -0.02, -0.09, -0.16, -0.2],
  [0.15, 0.08, 0.01, -0.06, -0.13, -0.17],
  [0.1, 0.03, -0.04, -0.11, -0.18],
  [0.12, 0.05, -0.02, -0.09, -0.16, -0.2],
  [0.15, 0.08, 0.01, -0.06, -0.13, -0.17],
  [0.4, 0.3, 0.23, 0.16, 0.09, 0.02, -0.05, -0.12, -0.2],
  [0.74, 0.16, 0.09, 0.02, -0.05, -0.12, -0.19, -0.26, -0.36],
  [0.15, 0.08, 0.01, -0.06, -0.13, -0.2, -0.25],
  [0.12, 0.05, -0.02, -0.09, -0.16, -0.23, -0.28],
  [0.15, 0.08, 0.01, -0.06, -0.13, -0.2, -0.25],
  [0.4, 0.2, 0.13, 0.06, -0.01, -0.08, -0.15, -0.22, -0.3],
  [0.25, 0.18, 0.11, 0.04, -0.03, -0.1, -0.17, -0.24, -0.27],
  [0.3, 0.23, 0.16, 0.09, 0.02, -0.05, -0.12, -0.19, -0.26],
  [0.45, 0.32, 0.25, 0.18, 0.11, 0.04, -0.03, -0.1, -0.17, -0.26],
  [0.25, 0.18, 0.11, 0.04, -0.03, -0.1, -0.17, -0.24],
  [0.15, 0.08, 0.01, -0.06, -0.13, -0.2, -0.27],
  [0.12, 0.05, -0.02, -0.08],
  [0.15, 0.08, 0.01, -0.06, -0.12],
  [0.2, 0.13, 0.06, -0.01, -0.08, -0.15, -0.2],
  [0.25, 0.18, 0.11, 0.04, -0.03, -0.1, -0.12],
  [0.27, 0.2, 0.13, 0.06, -0.01, -0.06],
  [0.22, 0.15, 0.08, 0.01, -0.06, -0.09],
  [0.15, 0.08, 0.01, -0.06, -0.13, -0.16],
  [0.12, 0.05, -0.02, -0.09, -0.16, -0.23, -0.3],
  [0.63, 0.08, 0.01, -0.06, -0.13, -0.2, -0.28, -0.39],
  [0.1, 0.03, -0.04, -0.11, -0.18, -0.22],
  [0.6, 0.43, 0.15, 0.08, 0.01, -0.06, -0.13, -0.16],
  [0.2, 0.13, 0.06, -0.01, -0.06],
  [0.27, 0.2, 0.13, 0.06, -0.01, -0.06],
  [0.27, 0.2, 0.13, 0.06, -0.01, -0.04],
  [0.2, 0.13, 0.06, -0.01, -0.08],
  [0.24, 0.17, 0.1, 0.03, -0.04, -0.09],
  [0.2, 0.13, 0.06, -0.01, -0.08, -0.11],
  [0.15, 0.08, 0.01, -0.06, -0.13, -0.2, -0.24],
  [0.2, 0.13, 0.06, -0.01, -0.08, -0.15, -0.2],
  [0.15, 0.08, 0.01, -0.06, -0.13, -0.16],
  [0.43, 0.18, 0.11, 0.04, -0.03, -0.1, -0.17, -0.24, -0.36, -0.48],
  [0.1, 0.03, -0.04, -0.11, -0.18, -0.25, -0.3],
  [0.05, -0.02, -0.09, -0.16, -0.23, -0.3, -0.35, -0.45],
  [0.08, 0.01, -0.06, -0.13, -0.2, -0.27, -0.32],
  [0.1, 0.03, -0.04, -0.11, -0.18, -0.25, -0.3],
  [0.15, 0.08, 0.01, -0.06, -0.13, -0.2, -0.25],
  [0.51, 0.31, 0.24, 0.17, 0.1, 0.03, -0.04, -0.11, -0.18, -0.25, -0.44],
  [0.2, 0.13, 0.06, -0.01, -0.08, -0.15, -0.2],
  [0.18, 0.11, 0.04, -0.03, -0.1, -0.13],
  [0.23, 0.16, 0.09, 0.02, -0.05, -0.12, -0.18],
  [0.15, 0.08, 0.01, -0.06, -0.13, -0.16],
  [0.12, 0.05, -0.02, -0.09, -0.16, -0.18],
  [0.1, 0.03, -0.04, -0.11, -0.18],
  [0.08, 0.01, -0.06, -0.12],
];
const diffC_start = 48.25;
const diffC: Col[] = [
  [0.05, -0.02, -0.09, -0.16, -0.23, -0.25],
  [0.08, 0.01, -0.06, -0.13, -0.2, -0.28],
  [0.06, -0.01, -0.08, -0.15, -0.22, -0.3],
  [0.1, 0.03, -0.04, -0.11, -0.18, -0.25, -0.3],
  [0.51, 0.28, 0.21, 0.14, 0.07, 0.0, -0.07, -0.14, -0.21, -0.28, -0.35, -0.42, -0.51],
  [0.22, 0.15, 0.08, 0.01, -0.06, -0.13, -0.2, -0.27, -0.36],
  [0.25, 0.18, 0.11, 0.04, -0.03, -0.1, -0.17, -0.24, -0.3],
  [0.3, 0.23, 0.16, 0.09, 0.02, -0.05, -0.12, -0.18],
  [0.25, 0.18, 0.11, 0.04, -0.03, -0.1, -0.17, -0.2],
  [0.4, 0.22, 0.15, 0.08, 0.01, -0.06, -0.13, -0.14],
  [0.2, 0.13, 0.06, -0.01, -0.08, -0.15, -0.22, -0.28, -0.38, -0.48],
  [0.18, 0.11, 0.04, -0.03, -0.1, -0.16],
  [0.2, 0.13, 0.06, -0.01, -0.08, -0.15, -0.2],
  [0.22, 0.15, 0.08, 0.01, -0.06, -0.13, -0.43],
  [0.4, 0.2, 0.13, 0.06, -0.01, -0.08, -0.15, -0.16],
  [0.67, 0.63, 0.37, 0.27, 0.2, 0.13, 0.06, -0.01, -0.08, -0.15, -0.2, -0.39],
  [0.3, 0.23, 0.16, 0.09, 0.02, -0.05, -0.12, -0.16],
  [0.22, 0.15, 0.08, 0.01, -0.06, -0.1],
  [0.2, 0.13, 0.06, -0.01, -0.08],
  [0.22, 0.15, 0.08, 0.01, -0.06, -0.07],
  [0.25, 0.18, 0.11, 0.04, -0.03, -0.05],
  [0.2, 0.13, 0.06, -0.01, -0.08],
  [0.22, 0.15, 0.08, 0.01, -0.06],
  [0.27, 0.2, 0.13, 0.06, -0.01, -0.05],
  [0.2, 0.13, 0.06, -0.01, -0.08, -0.1],
  [0.16, 0.09, 0.02, -0.05, -0.12, -0.14],
  [0.18, 0.11, 0.04, -0.03, -0.1, -0.14],
  [0.12, 0.05, -0.02, -0.09, -0.16, -0.18],
  [0.1, 0.03, -0.04, -0.11, -0.18, -0.2],
  [0.05, -0.02, -0.09, -0.16, -0.23, -0.24],
  [0.04, -0.03, -0.1, -0.17, -0.24, -0.26],
  [0.02, -0.05, -0.12, -0.19, -0.26, -0.27],
  [0.05, -0.02, -0.09, -0.16, -0.23, -0.25],
  [0.08, 0.01, -0.06, -0.13, -0.2, -0.22],
  [0.12, 0.05, -0.02, -0.09, -0.16, -0.18],
  [0.18, 0.11, 0.04, -0.03, -0.1, -0.12],
  [0.22, 0.15, 0.08, 0.01, -0.06, -0.08],
  [0.24, 0.17, 0.1, 0.03, -0.04, -0.06],
  [0.22, 0.15, 0.08, 0.01, -0.06, -0.08],
  [0.2, 0.13, 0.06, -0.01, -0.08, -0.1],
  [0.2, 0.13, 0.06, -0.01, -0.08, -0.1],
  [0.15, 0.08, 0.01, -0.06, -0.13, -0.15],
  [0.18, 0.11, 0.04, -0.03, -0.1, -0.17, -0.24, -0.28],
  [0.15, 0.08, 0.01, -0.06, -0.13, -0.2, -0.27, -0.33],
  [0.79, 0.64, 0.55, 0.24, 0.17, 0.1, 0.03, -0.04, -0.11, -0.18, -0.22],
  [0.15, 0.08, 0.01, -0.06, -0.13, -0.15],
  [0.12, 0.05, -0.02, -0.09, -0.16, -0.18],
  [0.15, 0.08, 0.01, -0.06, -0.13, -0.15],
  [0.12, 0.05, -0.02, -0.09, -0.16, -0.18],
  [0.24, 0.17, 0.1, 0.03, -0.04, -0.11, -0.16],
  [0.12, 0.05, -0.02, -0.09, -0.16, -0.18],
  [0.15, 0.08, 0.01, -0.06, -0.13, -0.15],
  [0.18, 0.11, 0.04, -0.03, -0.1, -0.17, -0.2, -0.33],
  [0.2, 0.13, 0.06, -0.01, -0.08, -0.15, -0.2],
  [0.22, 0.15, 0.08, 0.01, -0.06, -0.08],
  [0.18, 0.11, 0.04, -0.03, -0.1, -0.12],
  [0.2, 0.13, 0.06, -0.01, -0.08, -0.1],
  [0.2, 0.13, 0.06, -0.01, -0.08, -0.12],
  [0.27, 0.2, 0.13, 0.06, -0.01, -0.08, -0.15],
  [0.2, 0.13, 0.06, -0.01, -0.08, -0.15, -0.2],
  [0.18, 0.11, 0.04, -0.03, -0.1, -0.17, -0.2],
  [0.2, 0.13, 0.06, -0.01, -0.08, -0.15, -0.22, -0.26],
  [0.25, 0.18, 0.11, 0.04, -0.03, -0.1, -0.17, -0.24, -0.35, -0.45],
  [0.94, 0.81, 0.63, 0.36, 0.29, 0.22, 0.15, 0.08, 0.01, -0.06, -0.13, -0.2, -0.27, -0.36],
  [0.3, 0.23, 0.16, 0.09, 0.02, -0.05, -0.12, -0.19, -0.26, -0.3],
  [0.18, 0.11, 0.04, -0.03, -0.1, -0.17, -0.24],
  [0.18, 0.11, 0.04, -0.03, -0.1, -0.14],
  [0.24, 0.17, 0.1, 0.03, -0.04, -0.11, -0.18],
  [0.16, 0.09, 0.02, -0.05, -0.12, -0.14],
  [0.2, 0.13, 0.06, -0.01, -0.08, -0.1],
  [0.18, 0.11, 0.04, -0.03, -0.1, -0.12],
  [0.2, 0.13, 0.06, -0.01, -0.08, -0.15, -0.2],
  [0.18, 0.11, 0.04, -0.03, -0.1, -0.12],
  [0.2, 0.13, 0.06, -0.01, -0.08, -0.1],
  [0.25, 0.18, 0.11, 0.04, -0.03, -0.1, -0.18],
  [0.2, 0.13, 0.06, -0.01, -0.08, -0.1],
  [0.22, 0.15, 0.08, 0.01, -0.06, -0.08],
  [0.75, 0.24, 0.17, 0.1, 0.03, -0.04, -0.11, -0.18, -0.2],
  [0.25, 0.18, 0.11, 0.04, -0.03, -0.1, -0.15],
  [0.3, 0.23, 0.16, 0.09, 0.02, -0.05, -0.12, -0.18],
  [0.35, 0.28, 0.21, 0.14, 0.07, 0.0, -0.07, -0.14, -0.21, -0.26],
  [0.66, 0.5, 0.36, 0.29, 0.22, 0.15, 0.08, 0.01, -0.06, -0.13, -0.2, -0.27, -0.36],
  [0.76, 0.57, 0.45, 0.38, 0.31, 0.24, 0.17, 0.1, 0.03, -0.04, -0.11, -0.18, -0.25, -0.32, -0.42],
  [0.99, 0.76, 0.7, 0.55, 0.39, 0.3, 0.23, 0.16, 0.09, 0.02, -0.05, -0.12, -0.19, -0.26, -0.33, -0.45],
  [0.45, 0.38, 0.3, 0.23, 0.16, 0.09, 0.02, -0.05, -0.12, -0.19, -0.28, -0.4],
  [0.2, 0.13, 0.06, -0.01, -0.08, -0.15, -0.22, -0.35],
];
const diffD_start = 94.25;
const diffD: Col[] = [
  [0.2, 0.13, 0.06, -0.01, -0.08, -0.15, -0.2],
  [0.15, 0.08, 0.01, -0.06, -0.13, -0.2, -0.27],
  [0.1, 0.03, -0.04, -0.11, -0.18, -0.2],
  [0.18, 0.11, 0.04, -0.03, -0.1, -0.12],
  [0.25, 0.18, 0.11, 0.04, -0.03, -0.1, -0.15],
  [0.27, 0.2, 0.13, 0.06, -0.01, -0.08, -0.15],
  [0.45, 0.27, 0.2, 0.13, 0.06, -0.01, -0.08, -0.15],
  [0.2, 0.13, 0.06, -0.01, -0.08, -0.15, -0.22, -0.3],
  [0.15, 0.08, 0.01, -0.06, -0.13, -0.2, -0.27, -0.33, -0.39, -0.48],
  [0.2, 0.13, 0.06, -0.01, -0.08, -0.15, -0.2],
  [0.22, 0.15, 0.08, 0.01, -0.06, -0.13, -0.15],
  [0.2, 0.13, 0.06, -0.01, -0.08, -0.1],
  [0.15, 0.08, 0.01, -0.06, -0.13, -0.15],
  [0.12, 0.05, -0.02, -0.09, -0.16, -0.18],
  [0.15, 0.08, 0.01, -0.06, -0.13, -0.2, -0.21],
  [0.15, 0.08, 0.01, -0.06, -0.13, -0.15],
  [0.12, 0.05, -0.02, -0.09, -0.16, -0.18],
  [0.15, 0.08, 0.01, -0.06, -0.13, -0.2, -0.21],
  [0.3, 0.12, 0.05, -0.02, -0.09, -0.16, -0.23, -0.41],
  [0.2, 0.13, 0.06, -0.01, -0.08, -0.15, -0.22, -0.27],
  [0.15, 0.08, 0.01, -0.06, -0.13, -0.2, -0.25],
  [0.2, 0.13, 0.06, -0.01, -0.08, -0.15, -0.2],
  [0.3, 0.23, 0.16, 0.09, 0.02, -0.05, -0.12, -0.18],
  [0.48, 0.38, 0.28, 0.21, 0.14, 0.07, 0.0, -0.07, -0.14, -0.21, -0.27],
  [0.25, 0.18, 0.11, 0.04, -0.03, -0.1, -0.17, -0.22, -0.44],
  [0.15, 0.08, 0.01, -0.06, -0.13, -0.15],
  [0.18, 0.11, 0.04, -0.03, -0.1, -0.12],
  [0.12, 0.05, -0.02, -0.09, -0.15],
];

const FONT = '"Liberation Sans", Arial, Helvetica, sans-serif';

function expand(start: number, step: number, cols: Col[]): [number, number][] {
  const out: [number, number][] = [];
  cols.forEach((c, i) => {
    const t = Math.round((start + i * step) * 1000) / 1000;
    (Array.isArray(c) ? c : [c]).forEach((v) => out.push([t, v]));
  });
  return out;
}

export default function App() {
  const ref = useRef<HTMLDivElement>(null);

  useEffect(() => {
    if (!ref.current) return;
    const chart = echarts.init(ref.current, undefined, { renderer: 'svg' });

    const both = [
      ...expand(co2BothA_start, CO2_STEP, co2BothA),
      ...expand(co2BothB_start, CO2_STEP, co2BothB),
      ...expand(co2BothC_start, CO2_STEP, co2BothC),
      ...expand(co2BothD_start, CO2_STEP, co2BothD),
    ];
    const loFlo = [
      ...both,
      ...expand(loFloOnlyA_start, CO2_STEP, loFloOnlyA),
      ...expand(loFloOnlyD_start, CO2_STEP, loFloOnlyD),
      ...loFloExtras,
    ];
    const ftir = both;
    const diff = [
      ...expand(diffA_start, diffA_step, diffA),
      ...expand(diffB_start, DIFF_STEP, diffB),
      ...expand(diffC_start, DIFF_STEP, diffC),
      ...expand(diffD_start, DIFF_STEP, diffD),
    ];

    const plotLeft = 198;
    const plotWidth = 1162;
    const pxPerDay = plotWidth / X_MAX_DAYS;
    const black = { color: '#000', width: 1.5 };
    const dot = 10;

    chart.setOption({
      animation: false,
      backgroundColor: '#ffffff',
      textStyle: { fontFamily: FONT },
      grid: [
        { left: plotLeft, top: 13, width: plotWidth, height: 167 },
        { left: plotLeft, top: 220, width: plotWidth, height: 620 },
        {
          left: plotLeft + gridLineRange[0] * pxPerDay,
          top: 13,
          width: (gridLineRange[1] - gridLineRange[0]) * pxPerDay,
          height: 834,
        },
      ],
      xAxis: [
        {
          gridIndex: 0, type: 'value', min: 0, max: X_MAX_DAYS,
          axisLine: { show: true, onZero: true, lineStyle: black },
          axisTick: { show: false }, axisLabel: { show: false }, splitLine: { show: false },
        },
        {
          gridIndex: 1, type: 'value', position: 'bottom', offset: 7, min: 0, max: X_MAX_DAYS,
          axisLine: { show: true, onZero: false, lineStyle: black },
          axisTick: { show: true, customValues: xMinorTickDays, length: 18, lineStyle: black },
          axisLabel: { show: false }, splitLine: { show: false },
        },
        {
          gridIndex: 1, type: 'value', position: 'bottom', offset: 7, min: 0, max: X_MAX_DAYS,
          axisLine: { show: false, onZero: false },
          axisTick: { show: true, customValues: xMajorTickDays, length: 24, lineStyle: black },
          axisLabel: {
            show: true, customValues: xMajorTickDays, margin: 37, fontSize: 42, color: '#000', fontFamily: FONT,
            formatter: (v: number) => xMajorTickLabels[xMajorTickDays.indexOf(Math.round(v))] ?? '',
          },
          splitLine: { show: false },
        },
        {
          gridIndex: 2, type: 'value', min: gridLineRange[0], max: gridLineRange[1], interval: 10,
          axisLine: { show: false }, axisTick: { show: false }, axisLabel: { show: false },
          splitLine: { show: true, lineStyle: { color: '#9494ff', width: 1 } },
        },
      ],
      yAxis: [
        {
          gridIndex: 0, type: 'value', position: 'left', min: diffRange[0], max: diffRange[1],
          axisLine: { show: true, onZero: false, lineStyle: black },
          axisTick: { show: true, customValues: diffTickValues, length: 26, lineStyle: black },
          axisLabel: {
            show: true, customValues: diffTickValues, margin: 35, fontSize: 41, color: '#000', fontFamily: FONT,
            formatter: (v: number) => v.toFixed(1),
          },
          splitLine: { show: false },
        },
        {
          gridIndex: 0, type: 'value', position: 'left', min: diffRange[0], max: diffRange[1],
          axisLine: { show: false, onZero: false },
          axisTick: { show: true, customValues: diffMinorTickValues, length: 14, lineStyle: black },
          axisLabel: { show: false }, splitLine: { show: false },
        },
        {
          gridIndex: 1, type: 'value', position: 'left', min: co2Range[0], max: co2Range[1],
          axisLine: { show: true, onZero: false, lineStyle: black },
          axisTick: { show: true, customValues: co2TickValues, length: 26, lineStyle: black },
          axisLabel: {
            show: true, customValues: co2TickValues, margin: 38, fontSize: 41, color: '#000', fontFamily: FONT,
          },
          splitLine: { show: false },
        },
        { gridIndex: 2, type: 'value', min: 0, max: 1, show: false },
      ],
      legend: {
        data: seriesNames,
        orient: 'vertical',
        left: 1103,
        top: 209,
        padding: [9, 8, 9, 32],
        itemWidth: 30,
        itemHeight: 9,
        itemGap: 3,
        icon: 'circle',
        selectedMode: false,
        backgroundColor: '#ffffff',
        borderColor: '#000',
        borderWidth: 1.5,
        borderRadius: 0,
        textStyle: { fontSize: 31.5, lineHeight: 30, color: '#000', fontFamily: FONT, padding: [0, 0, 0, 28] },
      },
      graphic: [
        {
          type: 'text', x: 33, y: 83, rotation: Math.PI / 2, silent: true,
          style: {
            text: 'Diff.', font: `41px ${FONT}`, fill: '#000',
            align: 'center', verticalAlign: 'middle', textAlign: 'center', textVerticalAlign: 'middle',
          },
        },
        {
          type: 'group', x: 46, y: 600, rotation: Math.PI / 2, silent: true,
          children: [
            {
              type: 'text', x: 0, y: 0,
              style: { text: 'CO', font: `41px ${FONT}`, fill: '#000', align: 'left', verticalAlign: 'middle', textAlign: 'left', textVerticalAlign: 'middle' },
            },
            {
              type: 'text', x: 63, y: 15,
              style: { text: '2', font: `28px ${FONT}`, fill: '#000', align: 'left', verticalAlign: 'middle', textAlign: 'left', textVerticalAlign: 'middle' },
            },
            {
              type: 'text', x: 105, y: 0,
              style: { text: 'μmol mol', font: `41px ${FONT}`, fill: '#000', align: 'left', verticalAlign: 'middle', textAlign: 'left', textVerticalAlign: 'middle' },
            },
            {
              type: 'text', x: 273, y: -22,
              style: { text: '-1', font: `28px ${FONT}`, fill: '#000', align: 'left', verticalAlign: 'middle', textAlign: 'left', textVerticalAlign: 'middle' },
            },
          ],
        },
      ],
      series: [
        {
          name: seriesNames[0], type: 'scatter', xAxisIndex: 1, yAxisIndex: 2, data: loFlo,
          symbol: 'circle', symbolSize: dot, silent: true,
          itemStyle: { color: '#0044ff', opacity: 1 },
          emphasis: { disabled: true },
        },
        {
          name: seriesNames[1], type: 'scatter', xAxisIndex: 1, yAxisIndex: 2, data: ftir,
          symbol: 'circle', symbolSize: dot, silent: true,
          itemStyle: { color: '#ff0000', opacity: 1 },
          emphasis: { disabled: true },
          markArea: {
            silent: true, z: 10,
            label: { show: false },
            itemStyle: { color: 'rgba(0,0,0,0)', borderColor: '#000', borderWidth: 5 },
            data: [[{ xAxis: boxDays[0], yAxis: boxCo2[1] }, { xAxis: boxDays[1], yAxis: boxCo2[0] }]],
          },
        },
        {
          name: seriesNames[2], type: 'scatter', xAxisIndex: 0, yAxisIndex: 0, data: diff,
          symbol: 'circle', symbolSize: dot, silent: true,
          itemStyle: { color: '#000000', opacity: 1 },
          emphasis: { disabled: true },
        },
      ],
    });

    return () => chart.dispose();
  }, []);

  return (
    <div
      ref={ref}
      style={{ position: 'absolute', left: 0, top: 0, width: 1360, height: 928, background: '#ffffff' }}
    />
  );
}
